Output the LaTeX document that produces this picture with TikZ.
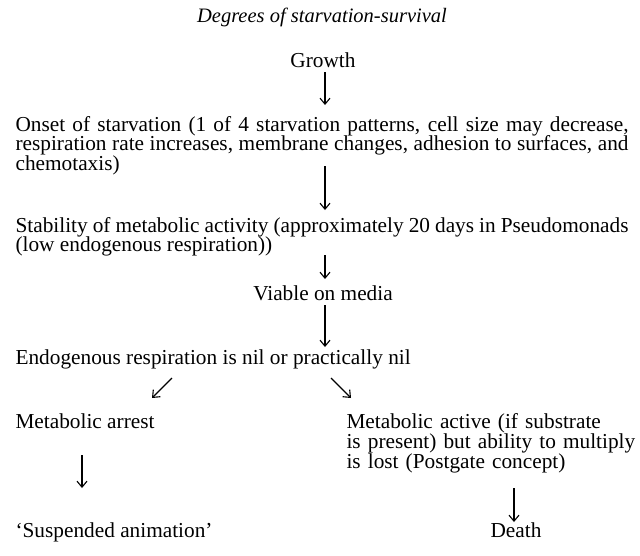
\documentclass[tikz,border=0pt]{standalone}
\usepackage{fontspec}
\setmainfont{Liberation Serif}
\usetikzlibrary{arrows.meta,positioning}

\begin{document}
\begin{tikzpicture}[
    x=1pt, y=-1pt,
    line width=1.1pt,
    >={Straight Barb[length=6pt,width=10pt]},
    every node/.style={inner sep=0pt, font=\fontsize{21.3}{19.8}\selectfont},
    para/.style={anchor=base west, text width=613pt, align=justify},
    block/.style={anchor=base west, text width=300pt, align=left,
                  font=\fontsize{21.3}{19}\selectfont},
    plain/.style={anchor=base west},
    centred/.style={anchor=base},
    flow/.style={->}
  ]
  \useasboundingbox (0,0) rectangle (640,555);

  \node[centred, font=\fontsize{20.5}{20}\selectfont\itshape] (title) at (322,22)
    {Degrees of starvation-survival};
  \node[centred] (growth) at (323,67) {Growth};

  \node[para] (onset) at (15,131)
    {Onset of starvation (1 of 4 starvation patterns, cell size may decrease,\linebreak
     respiration rate increases, membrane changes, adhesion to surfaces, and\linebreak
     chemotaxis)};
  \node[para] (stable) at (15,232)
    {Stability of metabolic activity (approximately 20 days in Pseudomonads\\
     (low endogenous respiration))};
  \node[centred] (viable) at (323,300) {Viable on media};
  \node[plain] (endo) at (15,364) {Endogenous respiration is nil or practically nil};

  % the two branches
  \node[plain] (arrest) at (15,428) {Metabolic arrest};
  \node[block] (active) at (346,428)
    {Metabolic active (if substrate\\ is present) but ability to multiply\\ is lost (Postgate concept)};
  \node[plain] (suspend) at (15,537) {`Suspended animation'};
  \node[centred] (death) at (516,537) {Death};

  \draw[flow] ([shift={(2,5)}]growth.base) -- ([shift={(310,-26)}]onset.base west);
  \draw[flow] ([shift={(310,35)}]onset.base west) -- ([shift={(310,-22)}]stable.base west);
  \draw[flow] ([shift={(310,23)}]stable.base west) -- ([shift={(2,-21)}]viable.base);
  \draw[flow] ([shift={(2,5)}]viable.base) -- ([shift={(310,-17)}]endo.base west);
  \draw[flow] ([shift={(157,14)}]endo.base west) -- ([shift={(137,-30)}]arrest.base west);
  \draw[flow] ([shift={(316,14)}]endo.base west) -- ([shift={(5,-30)}]active.base west);
  \draw[flow] ([shift={(67,27)}]arrest.base west) -- ([shift={(67,-49)}]suspend.base west);
  \draw[flow] ([shift={(-2,-49)}]death.base) -- ([shift={(-2,-15)}]death.base);
\end{tikzpicture}
\end{document}
